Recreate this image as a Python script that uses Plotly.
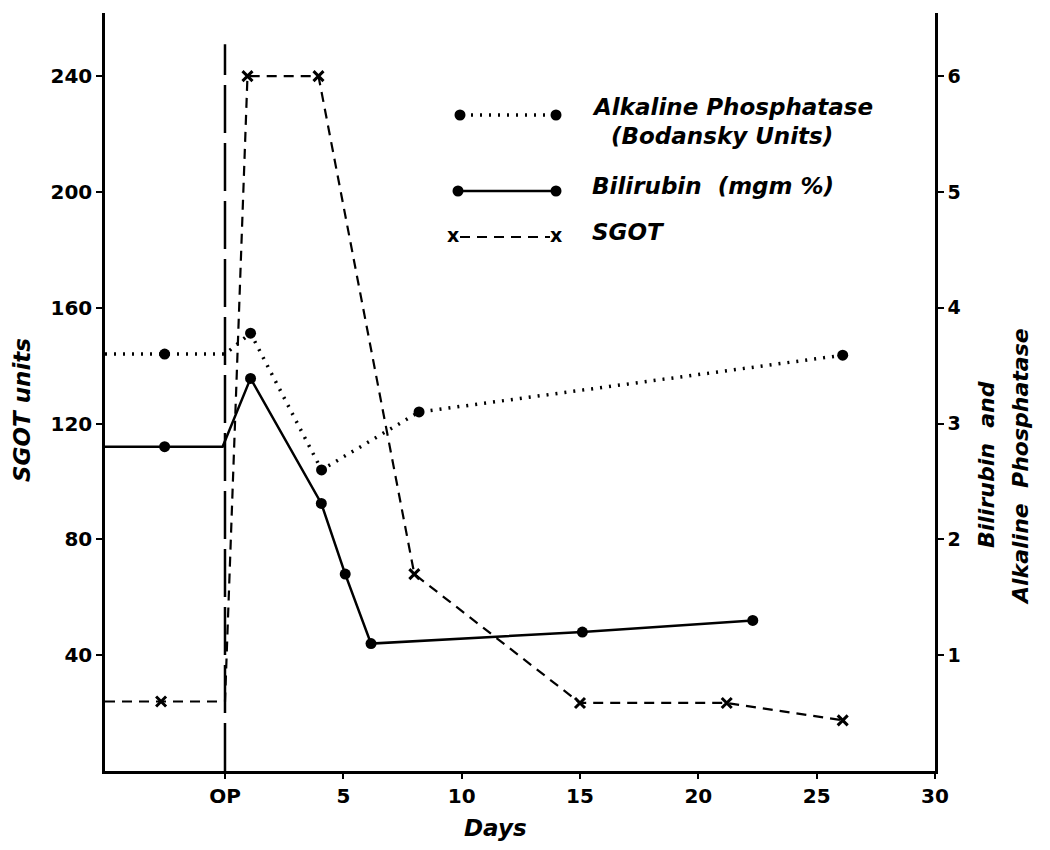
import plotly.graph_objects as go

# days relative to operation (OP = day 0); first point is the pre-op baseline at the left edge
sgot_days = [-5.07, -2.7, 0, 0.95, 3.95, 8.0, 15.0, 21.2, 26.1]
sgot_vals = [24, 24, 24, 240, 240, 68, 23.5, 23.5, 17.5]
sgot_mark = [False, True, False, True, True, True, True, True, True]

alk_days = [-5.07, -2.55, 0, 1.08, 4.08, 8.2, 26.1]
alk_vals = [3.6, 3.6, 3.6, 3.78, 2.6, 3.1, 3.59]
alk_mark = [False, True, False, True, True, True, True]

bili_days = [-5.07, -2.55, -0.1, 1.08, 4.07, 5.08, 6.17, 15.1, 22.3]
bili_vals = [2.8, 2.8, 2.8, 3.39, 2.31, 1.7, 1.1, 1.2, 1.3]
bili_mark = [False, True, False, True, True, True, True, True, True]

x_ticks = [0, 5, 10, 15, 20, 25, 30]
x_labels = ["OP", "5", "10", "15", "20", "25", "30"]
left_ticks = [40, 80, 120, 160, 200, 240]
right_ticks = [1, 2, 3, 4, 5, 6]

FONT = "DejaVu Sans"
INK = "black"
PAGE = 8  # default body margin of the html page


def pick(vals, mask):
    return [v for v, m in zip(vals, mask) if m]


fig = go.Figure()

# SGOT - dashed with x markers (left axis)
fig.add_trace(go.Scatter(x=sgot_days, y=sgot_vals, mode="lines",
                         line=dict(color=INK, width=2.2, dash="10px,7px")))
fig.add_trace(go.Scatter(x=pick(sgot_days, sgot_mark), y=pick(sgot_vals, sgot_mark), mode="markers",
                         marker=dict(symbol="x-thin-open", size=10, color=INK, line=dict(color=INK, width=3))))

# alkaline phosphatase - dotted with dots (right axis)
fig.add_trace(go.Scatter(x=alk_days, y=alk_vals, mode="lines", yaxis="y2",
                         line=dict(color=INK, width=3.5, dash="2px,7px")))
fig.add_trace(go.Scatter(x=pick(alk_days, alk_mark), y=pick(alk_vals, alk_mark), mode="markers", yaxis="y2",
                         marker=dict(symbol="circle", size=11, color=INK)))

# bilirubin - solid with dots (right axis)
fig.add_trace(go.Scatter(x=bili_days, y=bili_vals, mode="lines", yaxis="y2",
                         line=dict(color=INK, width=2.5)))
fig.add_trace(go.Scatter(x=pick(bili_days, bili_mark), y=pick(bili_vals, bili_mark), mode="markers", yaxis="y2",
                         marker=dict(symbol="circle", size=11, color=INK)))

# operation day marker
fig.add_shape(type="line", xref="x", yref="y", x0=0, x1=0, y0=0, y1=251,
              line=dict(color=INK, width=2.5, dash="48px,10px"))

# hand-drawn style legend (paper coords from page pixel positions)
L, R, B, T = 105, 935, 771, 13


def px(x):
    return (x - L) / (R - L)


def py(y):
    return (B - y) / (B - T)


leg = [
    (115, "dot"),
    (191, "solid"),
    (237, "dash"),
]
for yy, kind in leg:
    if kind == "dot":
        fig.add_shape(type="line", xref="paper", yref="paper", x0=px(462), x1=px(556), y0=py(yy), y1=py(yy),
                      line=dict(color=INK, width=3.5, dash="2px,7px"))
    elif kind == "solid":
        fig.add_shape(type="line", xref="paper", yref="paper", x0=px(458), x1=px(555), y0=py(yy), y1=py(yy),
                      line=dict(color=INK, width=2.5))
    else:
        fig.add_shape(type="line", xref="paper", yref="paper", x0=px(460), x1=px(550), y0=py(yy), y1=py(yy),
                      line=dict(color=INK, width=2.2, dash="10px,7px"))
    if kind in ("dot", "solid"):
        for cx in (458 if kind == "solid" else 460, 556):
            fig.add_shape(type="circle", xref="paper", yref="paper", xsizemode="pixel", ysizemode="pixel",
                          xanchor=px(cx), yanchor=py(yy), x0=-5.5, x1=5.5, y0=-5.5, y1=5.5,
                          fillcolor=INK, line=dict(color=INK, width=0))
    else:
        for cx in (453, 556):
            fig.add_annotation(x=px(cx), y=py(yy - 2), xref="paper", yref="paper", text="<b>x</b>", showarrow=False,
                               font=dict(family=FONT, size=19, color=INK), xanchor="center", yanchor="middle")

TXT = dict(family=FONT, size=23, color=INK)
fig.add_annotation(x=px(590), y=py(107), xref="paper", yref="paper", xanchor="left", yanchor="middle",
                   text="<b><i>Alkaline Phosphatase</i></b>", showarrow=False, font=TXT)
fig.add_annotation(x=px(722), y=py(136), xref="paper", yref="paper", xanchor="center", yanchor="middle",
                   text="<b><i>(Bodansky Units)</i></b>", showarrow=False, font=TXT)
fig.add_annotation(x=px(590), y=py(186), xref="paper", yref="paper", xanchor="left", yanchor="middle",
                   text="<b><i>Bilirubin  (mgm %)</i></b>", showarrow=False, font=TXT)
fig.add_annotation(x=px(590), y=py(232), xref="paper", yref="paper", xanchor="left", yanchor="middle",
                   text="<b><i>SGOT</i></b>", showarrow=False, font=TXT)

# axis titles
fig.add_annotation(x=px(495), y=py(828), xref="paper", yref="paper", xanchor="center", yanchor="middle",
                   text="<b><i>Days</i></b>", showarrow=False, font=TXT)
fig.add_annotation(x=px(22), y=py(410), xref="paper", yref="paper", xanchor="center", yanchor="middle",
                   text="<b><i>SGOT units</i></b>", showarrow=False, textangle=-90, font=TXT)
fig.add_annotation(x=px(986), y=py(465), xref="paper", yref="paper", xanchor="center", yanchor="middle",
                   text="<b><i>Bilirubin  and</i></b>", showarrow=False,
                   textangle=-90, font=dict(family=FONT, size=22, color=INK))
fig.add_annotation(x=px(1020), y=py(467), xref="paper", yref="paper", xanchor="center", yanchor="middle",
                   text="<b><i>Alkaline  Phosphatase</i></b>", showarrow=False,
                   textangle=-90, font=dict(family=FONT, size=22, color=INK))

W, H = 1050 - PAGE, 850 - PAGE
fig.update_layout(
    width=W, height=H,
    margin=dict(l=L - PAGE, r=W - (R - PAGE), t=T - PAGE, b=H - (B - PAGE)),
    paper_bgcolor="white", plot_bgcolor="white",
    showlegend=False,
    font=dict(family=FONT, size=19, color=INK),
    xaxis=dict(range=[-5.07, 30], tickvals=x_ticks, ticktext=["<b>%s</b>" % t for t in x_labels],
               showgrid=False, zeroline=False,
               showline=True, linecolor=INK, linewidth=2.5, ticks="outside", ticklen=5, tickwidth=2,
               tickcolor=INK, tickfont=dict(size=20)),
    yaxis=dict(range=[0, 261.8], tickvals=left_ticks, ticktext=["<b>%d</b>" % t for t in left_ticks],
               showgrid=False, zeroline=False,
               showline=True, linecolor=INK, linewidth=2.5, ticks="outside", ticklen=6, tickwidth=2,
               tickcolor=INK, tickfont=dict(size=20)),
    yaxis2=dict(range=[0, 6.545], tickvals=right_ticks, ticktext=["<b>%d</b>" % t for t in right_ticks],
                overlaying="y", side="right", showgrid=False,
                zeroline=False, showline=True, linecolor=INK, linewidth=2.5, ticks="outside", ticklen=6,
                tickwidth=2, tickcolor=INK, tickfont=dict(size=19)),
)

fig.write_html("out.html")
